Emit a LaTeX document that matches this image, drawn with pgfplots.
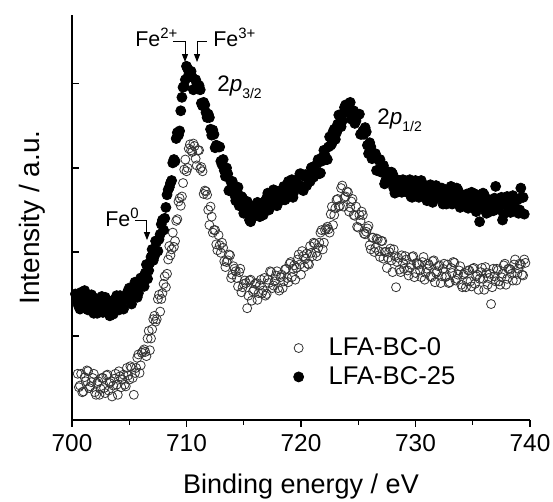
\documentclass[border=0pt]{standalone}
\usepackage{fontspec}
\setmainfont{Liberation Sans}
\usepackage{pgfplots}
\pgfplotsset{compat=1.18}
\usetikzlibrary{arrows.meta}

\begin{document}
\begin{tikzpicture}
\begin{axis}[
  scale only axis, width=229pt, height=202.5pt,
  xmin=700, xmax=740, ymin=0, ymax=4.82,
  axis lines=left, axis line style={-, line width=0.6pt},
  xtick={700,710,...,740}, minor x tick num=1,
  ytick={1,2,3,4}, yticklabels={},
  tick align=outside, major tick length=3.5pt, minor tick length=2.5pt,
  tick style={black, line width=0.6pt},
  every y tick/.append style={xshift=3.5pt},
  xtick pos=left, ytick pos=left,
  ticklabel style={font=\fontsize{12.2}{14}\selectfont},
  /pgf/number format/assume math mode=true,
  /pgf/number format/1000 sep={},
  xlabel={Binding energy / eV},
  xlabel style={font=\fontsize{13.5}{16}\selectfont, at={(axis description cs:0.5,-0.165)}, anchor=center},
  ylabel={Intensity / a.u.},
  ylabel style={font=\fontsize{14}{16}\selectfont, at={(axis description cs:-0.087,0.5)}, anchor=center},
  legend style={draw=none, fill=none, at={(rel axis cs:0.47,0.142)}, anchor=west,
    font=\fontsize{12.8}{15.4}\selectfont},
  legend cell align=left,
]
\coordinate (O) at (rel axis cs:0,0);

% LFA-BC-0 (open circles)
\addplot[only marks, mark=o, mark size=2.25pt, mark options={draw=black!80, line width=0.4pt}] coordinates {
(700.6,0.39) (700.8,0.55) (701.0,0.34) (701.2,0.46) (701.4,0.58) (701.6,0.40) (701.8,0.50) (702.0,0.33)
(702.2,0.44) (702.4,0.30) (702.6,0.50) (702.8,0.38) (703.0,0.53) (703.2,0.35) (703.4,0.46) (703.6,0.41)
(703.8,0.55) (704.0,0.30) (704.2,0.52) (704.4,0.48) (704.6,0.42) (704.8,0.62) (705.0,0.48) (705.2,0.62)
(705.4,0.30) (705.6,0.62) (705.8,0.78) (706.0,0.65) (706.2,0.82) (706.4,0.81) (706.6,0.97) (706.8,0.83)
(707.0,1.08) (707.2,1.24) (707.4,1.20) (707.6,1.49) (707.8,1.44) (708.0,1.62) (708.2,1.58) (708.4,1.91)
(708.6,1.96) (708.8,2.23) (709.0,2.13) (709.2,2.39) (709.4,2.64) (709.6,2.66) (709.8,2.98) (710.0,2.96)
(710.2,3.23) (710.4,3.21) (710.6,3.29) (710.8,3.11) (711.0,3.21) (711.2,2.99) (711.4,2.96) (711.6,2.73)
(711.8,2.68) (712.0,2.32) (712.2,2.42) (712.4,2.26) (712.6,2.09) (712.8,2.20) (713.0,1.99) (713.2,2.05)
(713.4,1.82) (713.6,1.90) (713.8,1.96) (714.0,1.73) (714.2,1.80) (714.4,1.69) (714.6,1.76) (714.8,1.52)
(715.0,1.62) (715.2,1.63) (715.4,1.48) (715.6,1.67) (715.8,1.53) (716.0,1.62) (716.2,1.43) (716.4,1.60)
(716.6,1.51) (716.8,1.69) (717.0,1.50) (717.2,1.63) (717.4,1.76) (717.6,1.60) (717.8,1.72) (718.0,1.57)
(718.2,1.70) (718.4,1.57) (718.6,1.79) (718.8,1.69) (719.0,1.86) (719.2,1.70) (719.4,1.84) (719.6,1.81)
(719.8,1.97) (720.0,1.73) (720.2,1.95) (720.4,1.92) (720.6,1.86) (720.8,2.07) (721.0,1.95) (721.2,2.10)
(721.4,1.95) (721.6,2.11) (721.8,2.26) (722.0,2.11) (722.2,2.28) (722.4,2.27) (722.6,2.45) (722.8,2.32)
(723.0,2.52) (723.2,2.63) (723.4,2.55) (723.6,2.79) (723.8,2.65) (724.0,2.72) (724.2,2.48) (724.4,2.60)
(724.6,2.44) (724.8,2.54) (725.0,2.29) (725.2,2.37) (725.4,2.44) (725.6,2.21) (725.8,2.28) (726.0,2.08)
(726.2,2.17) (726.4,2.00) (726.6,2.16) (726.8,2.01) (727.0,2.13) (727.2,1.92) (727.4,2.00) (727.6,1.93)
(727.8,2.04) (728.0,1.76) (728.2,1.95) (728.4,1.88) (728.6,1.79) (728.8,1.96) (729.0,1.80) (729.2,1.91)
(729.4,1.72) (729.6,1.85) (729.8,1.95) (730.0,1.75) (730.2,1.86) (730.4,1.78) (730.6,1.88) (730.8,1.67)
(731.0,1.80) (731.2,1.84) (731.4,1.70) (731.6,1.90) (731.8,1.75) (732.0,1.83) (732.2,1.63) (732.4,1.80)
(732.6,1.70) (732.8,1.85) (733.0,1.64) (733.2,1.75) (733.4,1.87) (733.6,1.68) (733.8,1.78) (734.0,1.61)
(734.2,1.73) (734.4,1.58) (734.6,1.78) (734.8,1.65) (735.0,1.80) (735.2,1.62) (735.4,1.73) (735.6,1.68)
(735.8,1.81) (736.0,1.55) (736.2,1.75) (736.4,1.69) (736.6,1.38) (736.8,1.80) (737.0,1.65) (737.2,1.78)
(737.4,1.61) (737.6,1.74) (737.8,1.86) (738.0,1.68) (738.2,1.80) (738.4,1.74) (738.6,1.85) (738.8,1.66)
(739.0,1.80) (739.2,1.85) (739.4,1.72) (739.6,1.87)
(700.5,0.55) (700.7,0.41) (700.9,0.33) (701.1,0.51) (701.3,0.59) (701.5,0.38) (701.7,0.45) (701.9,0.55)
(702.1,0.30) (702.3,0.46) (702.5,0.37) (702.7,0.50) (702.9,0.32) (703.1,0.54) (703.3,0.44) (703.5,0.28)
(703.7,0.49) (703.9,0.42) (704.1,0.58) (704.3,0.39) (704.5,0.54) (704.7,0.40) (704.9,0.53) (705.1,0.64)
(705.3,0.50) (705.5,0.56) (705.7,0.74) (705.9,0.56) (706.1,0.80) (706.3,0.84) (706.5,0.76) (706.7,1.06)
(706.9,0.97) (707.1,1.20) (707.3,1.17) (707.5,1.44) (707.7,1.29) (707.9,1.51) (708.1,1.71) (708.3,1.74)
(708.5,2.07) (708.7,2.03) (708.9,2.06) (709.1,2.37) (709.3,2.60) (709.5,2.55) (709.7,2.82) (709.9,3.10)
(710.1,3.00) (710.3,3.28) (710.5,3.19) (710.7,3.26) (710.9,3.03) (711.1,3.21) (711.3,3.01) (711.5,2.69)
(711.7,2.72) (711.9,2.50) (712.1,2.54) (712.3,2.23) (712.5,2.26) (712.7,2.02) (712.9,2.08) (713.1,2.11)
(713.3,1.89) (713.5,1.88) (713.7,1.97) (713.9,1.69) (714.1,1.83) (714.3,1.77) (714.5,1.59) (714.7,1.80)
(714.9,1.58) (715.1,1.66) (715.3,1.33) (715.5,1.66) (715.7,1.42) (715.9,1.55) (716.1,1.63) (716.3,1.51)
(716.5,1.67) (716.7,1.54) (716.9,1.48) (717.1,1.67) (717.3,1.77) (717.5,1.57) (717.7,1.65) (717.9,1.77)
(718.1,1.54) (718.3,1.73) (718.5,1.65) (718.7,1.80) (718.9,1.64) (719.1,1.88) (719.3,1.80) (719.5,1.67)
(719.7,1.91) (719.9,1.85) (720.1,2.01) (720.3,1.82) (720.5,1.98) (720.7,1.85) (720.9,1.99) (721.1,2.11)
(721.3,1.99) (721.5,2.05) (721.7,2.23) (721.9,2.03) (722.1,2.26) (722.3,2.30) (722.5,2.23) (722.7,2.54)
(722.9,2.44) (723.1,2.62) (723.3,2.54) (723.5,2.76) (723.7,2.54) (723.9,2.66) (724.1,2.71) (724.3,2.53)
(724.5,2.63) (724.7,2.43) (724.9,2.30) (725.1,2.44) (725.3,2.48) (725.5,2.22) (725.7,2.24) (725.9,2.31)
(726.1,2.03) (726.3,2.17) (726.5,2.05) (726.7,2.15) (726.9,1.94) (727.1,2.13) (727.3,2.00) (727.5,1.81)
(727.7,2.00) (727.9,1.90) (728.1,2.03) (728.3,1.58) (728.5,1.93) (728.7,1.76) (728.9,1.87) (729.1,1.95)
(729.3,1.78) (729.5,1.81) (729.7,1.94) (729.9,1.70) (730.1,1.87) (730.3,1.85) (730.5,1.70) (730.7,1.94)
(730.9,1.75) (731.1,1.86) (731.3,1.71) (731.5,1.89) (731.7,1.64) (731.9,1.77) (732.1,1.84) (732.3,1.71)
(732.5,1.86) (732.7,1.71) (732.9,1.63) (733.1,1.81) (733.3,1.88) (733.5,1.66) (733.7,1.73) (733.9,1.83)
(734.1,1.58) (734.3,1.75) (734.5,1.65) (734.7,1.78) (734.9,1.59) (735.1,1.81) (735.3,1.71) (735.5,1.55)
(735.7,1.76) (735.9,1.68) (736.1,1.82) (736.3,1.61) (736.5,1.74) (736.7,1.58) (736.9,1.71) (737.1,1.80)
(737.3,1.65) (737.5,1.70) (737.7,1.84) (737.9,1.61) (738.1,1.80) (738.3,1.79) (738.5,1.66) (738.7,1.91)
(738.9,1.74) (739.1,1.86) (739.3,1.73) (739.5,1.91)
};
\addlegendentry{\hspace{10.5pt}LFA-BC-0}

% LFA-BC-25 (filled circles)
\addplot[only marks, mark=*, mark size=2.5pt, mark options={fill=black, draw=black}] coordinates {
(700.4,1.46) (700.6,1.35) (700.8,1.52) (701.0,1.40) (701.2,1.48) (701.4,1.31) (701.6,1.44) (701.8,1.34)
(702.0,1.45) (702.2,1.27) (702.4,1.37) (702.6,1.47) (702.8,1.32) (703.0,1.41) (703.2,1.28) (703.4,1.38)
(703.6,1.26) (703.8,1.44) (704.0,1.35) (704.2,1.48) (704.4,1.34) (704.6,1.45) (704.8,1.44) (705.0,1.57)
(705.2,1.38) (705.4,1.58) (705.6,1.55) (705.8,1.51) (706.0,1.69) (706.2,1.61) (706.4,1.75) (706.6,1.68)
(706.8,1.87) (707.0,2.03) (707.2,1.95) (707.4,2.12) (707.6,2.15) (707.8,2.33) (708.0,2.26) (708.2,2.53)
(708.4,2.74) (708.6,2.82) (708.8,3.06) (709.0,3.08) (709.2,3.42) (709.4,3.44) (709.6,3.84) (709.8,3.97)
(710.0,4.21) (710.2,4.11) (710.4,4.15) (710.6,3.93) (710.8,4.05) (711.0,3.94) (711.2,3.93) (711.4,3.74)
(711.6,3.75) (711.8,3.60) (712.0,3.60) (712.2,3.39) (712.4,3.40) (712.6,3.27) (712.8,3.25) (713.0,3.08)
(713.2,3.10) (713.4,2.90) (713.6,2.93) (713.8,2.74) (714.0,2.84) (714.2,2.68) (714.4,2.72) (714.6,2.55)
(714.8,2.66) (715.0,2.46) (715.2,2.55) (715.4,2.57) (715.6,2.36) (715.8,2.48) (716.0,2.43) (716.2,2.59)
(716.4,2.42) (716.6,2.56) (716.8,2.53) (717.0,2.64) (717.2,2.50) (717.4,2.62) (717.6,2.74) (717.8,2.61)
(718.0,2.72) (718.2,2.61) (718.4,2.72) (718.6,2.62) (718.8,2.80) (719.0,2.72) (719.2,2.86) (719.4,2.72)
(719.6,2.83) (719.8,2.80) (720.0,2.93) (720.2,2.73) (720.4,2.92) (720.6,2.89) (720.8,2.84) (721.0,3.01)
(721.2,2.92) (721.4,3.05) (721.6,2.93) (721.8,3.08) (722.0,3.21) (722.2,3.10) (722.4,3.25) (722.6,3.27)
(722.8,3.43) (723.0,3.34) (723.2,3.52) (723.4,3.61) (723.6,3.56) (723.8,3.72) (724.0,3.67) (724.2,3.76)
(724.4,3.58) (724.6,3.68) (724.8,3.56) (725.0,3.63) (725.2,3.40) (725.4,3.44) (725.6,3.48) (725.8,3.27)
(726.0,3.30) (726.2,3.11) (726.4,3.15) (726.6,2.97) (726.8,3.09) (727.0,2.95) (727.2,3.03) (727.4,2.85)
(727.6,2.91) (727.8,2.84) (728.0,2.93) (728.2,2.70) (728.4,2.86) (728.6,2.80) (728.8,2.71) (729.0,2.85)
(729.2,2.72) (729.4,2.82) (729.6,2.66) (729.8,2.77) (730.0,2.85) (730.2,2.68) (730.4,2.77) (730.6,2.70)
(730.8,2.79) (731.0,2.61) (731.2,2.72) (731.4,2.74) (731.6,2.63) (731.8,2.79) (732.0,2.67) (732.2,2.75)
(732.4,2.57) (732.6,2.71) (732.8,2.62) (733.0,2.75) (733.2,2.57) (733.4,2.67) (733.6,2.76) (733.8,2.60)
(734.0,2.68) (734.2,2.55) (734.4,2.64) (734.6,2.52) (734.8,2.68) (735.0,2.58) (735.2,2.69) (735.4,2.54)
(735.6,2.36) (735.8,2.58) (736.0,2.68) (736.2,2.46) (736.4,2.62) (736.6,2.57) (736.8,2.49) (737.0,2.78)
(737.2,2.52) (737.4,2.61) (737.6,2.38) (737.8,2.57) (738.0,2.66) (738.2,2.50) (738.4,2.59) (738.6,2.53)
(738.8,2.63) (739.0,2.46) (739.2,2.76) (739.4,2.65)
(700.3,1.50) (700.5,1.39) (700.7,1.32) (700.9,1.47) (701.1,1.54) (701.3,1.36) (701.5,1.42) (701.7,1.49)
(701.9,1.27) (702.1,1.39) (702.3,1.32) (702.5,1.43) (702.7,1.28) (702.9,1.46) (703.1,1.38) (703.3,1.24)
(703.5,1.42) (703.7,1.35) (703.9,1.48) (704.1,1.31) (704.3,1.43) (704.5,1.32) (704.7,1.44) (704.9,1.54)
(705.1,1.43) (705.3,1.49) (705.5,1.64) (705.7,1.46) (705.9,1.64) (706.1,1.66) (706.3,1.59) (706.5,1.85)
(706.7,1.78) (706.9,1.94) (707.1,1.90) (707.3,2.13) (707.5,2.01) (707.7,2.21) (707.9,2.38) (708.1,2.40)
(708.3,2.68) (708.5,2.77) (708.7,2.85) (708.9,3.10) (709.1,3.35) (709.3,3.39) (709.5,3.68) (709.7,3.96)
(709.9,4.05) (710.1,4.18) (710.3,4.10) (710.5,4.08) (710.7,3.94) (710.9,4.01) (711.1,3.98) (711.3,3.77)
(711.5,3.78) (711.7,3.66) (711.9,3.64) (712.1,3.46) (712.3,3.45) (712.5,3.24) (712.7,3.26) (712.9,3.25)
(713.1,3.04) (713.3,2.97) (713.5,3.00) (713.7,2.73) (713.9,2.83) (714.1,2.76) (714.3,2.61) (714.5,2.77)
(714.7,2.59) (714.9,2.64) (715.1,2.48) (715.3,2.60) (715.5,2.38) (715.7,2.47) (715.9,2.54) (716.1,2.44)
(716.3,2.58) (716.5,2.48) (716.7,2.44) (716.9,2.61) (717.1,2.70) (717.3,2.54) (717.5,2.62) (717.7,2.73)
(717.9,2.55) (718.1,2.71) (718.3,2.65) (718.5,2.78) (718.7,2.64) (718.9,2.84) (719.1,2.78) (719.3,2.65)
(719.5,2.85) (719.7,2.79) (719.9,2.93) (720.1,2.77) (720.3,2.90) (720.5,2.79) (720.7,2.91) (720.9,3.00)
(721.1,2.89) (721.3,2.95) (721.5,3.10) (721.7,2.94) (721.9,3.13) (722.1,3.15) (722.3,3.10) (722.5,3.37)
(722.7,3.29) (722.9,3.46) (723.1,3.42) (723.3,3.63) (723.5,3.49) (723.7,3.65) (723.9,3.75) (724.1,3.66)
(724.3,3.78) (724.5,3.64) (724.7,3.53) (724.9,3.63) (725.1,3.64) (725.3,3.40) (725.5,3.40) (725.7,3.43)
(725.9,3.17) (726.1,3.25) (726.3,3.12) (726.5,3.17) (726.7,2.97) (726.9,3.10) (727.1,2.98) (727.3,2.81)
(727.5,2.96) (727.7,2.86) (727.9,2.95) (728.1,2.76) (728.3,2.86) (728.5,2.72) (728.7,2.80) (728.9,2.86)
(729.1,2.72) (729.3,2.74) (729.5,2.86) (729.7,2.65) (729.9,2.79) (730.1,2.77) (730.3,2.65) (730.5,2.85)
(730.7,2.69) (730.9,2.78) (731.1,2.65) (731.3,2.80) (731.5,2.59) (731.7,2.70) (731.9,2.76) (732.1,2.65)
(732.3,2.76) (732.5,2.65) (732.7,2.57) (732.9,2.72) (733.1,2.78) (733.3,2.60) (733.5,2.65) (733.7,2.74)
(733.9,2.53) (734.1,2.66) (734.3,2.59) (734.5,2.69) (734.7,2.54) (734.9,2.71) (735.1,2.63) (735.3,2.48)
(735.5,2.66) (735.7,2.58) (735.9,2.70) (736.1,2.51) (736.3,2.62) (736.5,2.48) (736.7,2.58) (736.9,2.64)
(737.1,2.51) (737.3,2.54) (737.5,2.65) (737.7,2.45) (737.9,2.60) (738.1,2.58) (738.3,2.47) (738.5,2.67)
(738.7,2.52) (738.9,2.62) (739.1,2.50) (739.3,2.65) (739.5,2.45)
};
\addlegendentry{\hspace{10.5pt}LFA-BC-25}

% annotations
\node[anchor=base west, inner sep=0, font=\fontsize{10.7}{12}\selectfont] at (axis cs:705.50,4.44) {Fe\textsuperscript{2+}};
\node[anchor=base west, inner sep=0, font=\fontsize{10.7}{12}\selectfont] at (axis cs:712.31,4.44) {Fe\textsuperscript{3+}};
\draw[line width=0.5pt, -{Triangle[length=4pt,width=3pt]}] (axis cs:708.82,4.50) -- (axis cs:709.87,4.50) -- (axis cs:709.87,4.26);
\draw[line width=0.5pt, -{Triangle[length=4pt,width=3pt]}] (axis cs:711.79,4.50) -- (axis cs:710.92,4.50) -- (axis cs:710.92,4.26);
\node[anchor=base west, inner sep=0, font=\fontsize{10.7}{12}\selectfont] at (axis cs:702.88,2.30) {Fe\textsuperscript{0}};
\draw[line width=0.5pt, -{Triangle[length=4pt,width=3pt]}] (axis cs:705.50,2.37) -- (axis cs:706.55,2.37) -- (axis cs:706.55,2.14);
\node[anchor=base west, inner sep=0, font=\fontsize{11.2}{13}\selectfont] at (axis cs:712.66,3.905) {2\textit{p}\raisebox{-3.5pt}{\fontsize{7}{8}\selectfont 3/2}};
\node[anchor=base west, inner sep=0, font=\fontsize{11.2}{13}\selectfont] at (axis cs:726.64,3.512) {2\textit{p}\raisebox{-3.5pt}{\fontsize{7}{8}\selectfont 1/2}};
\end{axis}
\pgfresetboundingbox
\path (O) ++(-36pt,-41pt) rectangle ++(276.5pt,251pt);
\end{tikzpicture}
\end{document}
